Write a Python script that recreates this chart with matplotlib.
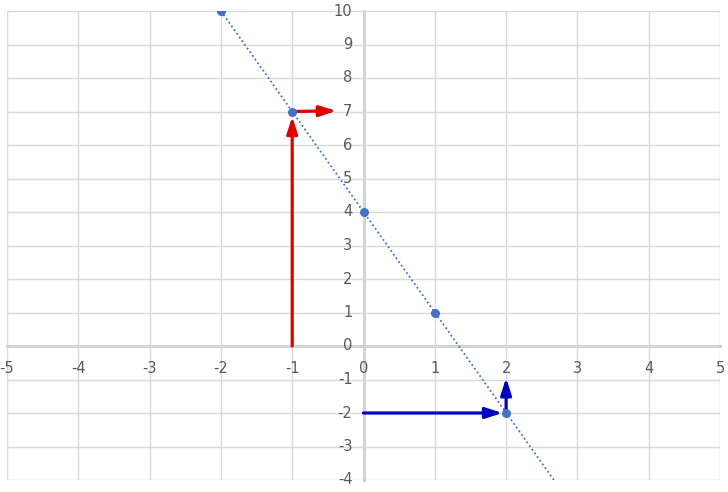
import matplotlib
matplotlib.use("Agg")
import matplotlib.pyplot as plt
import numpy as np

# Data
pts_x = [-2, -1, 0, 1, 2]
pts_y = [10, 7, 4, 1, -2]
line_x = [-2, 2.67]
line_y = [10, -4]
red_arrows = [((-1, 0), (-1, 6.85)), ((-1, 7), (-0.38, 7.02))]
blue_arrows = [((0, -2), (1.95, -2)), ((2, -2), (2, -0.95))]
xticks = list(range(-5, 6))
yticks = list(range(-4, 11))

fig = plt.figure(figsize=(7.28, 4.92), dpi=100)
ax = fig.add_axes([7/728, 12/492, 713/728, 469/492])
ax.set_xlim(-5, 5)
ax.set_ylim(-4, 10)

ax.set_xticks(xticks)
ax.set_yticks(yticks)
ax.grid(True, color="#d9d9d9", linewidth=1.0, zorder=0)
for s in ["top", "right"]:
    ax.spines[s].set_visible(False)
ax.spines["left"].set_position(("data", 0))
ax.spines["bottom"].set_position(("data", 0))
for s in ["left", "bottom"]:
    ax.spines[s].set_color("#bfbfbf")
    ax.spines[s].set_linewidth(1.8)
    ax.spines[s].set_zorder(1)
ax.tick_params(length=0, labelsize=10.5, labelcolor="#595959")
ax.tick_params(axis="x", pad=11)
ax.tick_params(axis="y", pad=8)
ax.set_xticklabels([str(v) for v in xticks])
ax.set_yticklabels([str(v) for v in yticks])
for lab in ax.get_yticklabels():
    lab.set_verticalalignment("center")

ax.plot(line_x, line_y, linestyle=(0, (1, 1.5)), color="#4472c4", linewidth=1.3, zorder=2)
ax.scatter(pts_x, pts_y, s=30, color="#4472c4", zorder=4)

style = "-|>,head_length=1.0,head_width=0.32"
for (s, e) in red_arrows:
    ax.annotate("", xy=e, xytext=s,
                arrowprops=dict(arrowstyle=style, color="#e00000",
                                lw=2.3, shrinkA=0, shrinkB=0, mutation_scale=10),
                zorder=3)
for (s, e) in blue_arrows:
    ax.annotate("", xy=e, xytext=s,
                arrowprops=dict(arrowstyle=style, color="#0000c0",
                                lw=2.3, shrinkA=0, shrinkB=0, mutation_scale=10),
                zorder=3)

fig.savefig("out.png", dpi=100)
